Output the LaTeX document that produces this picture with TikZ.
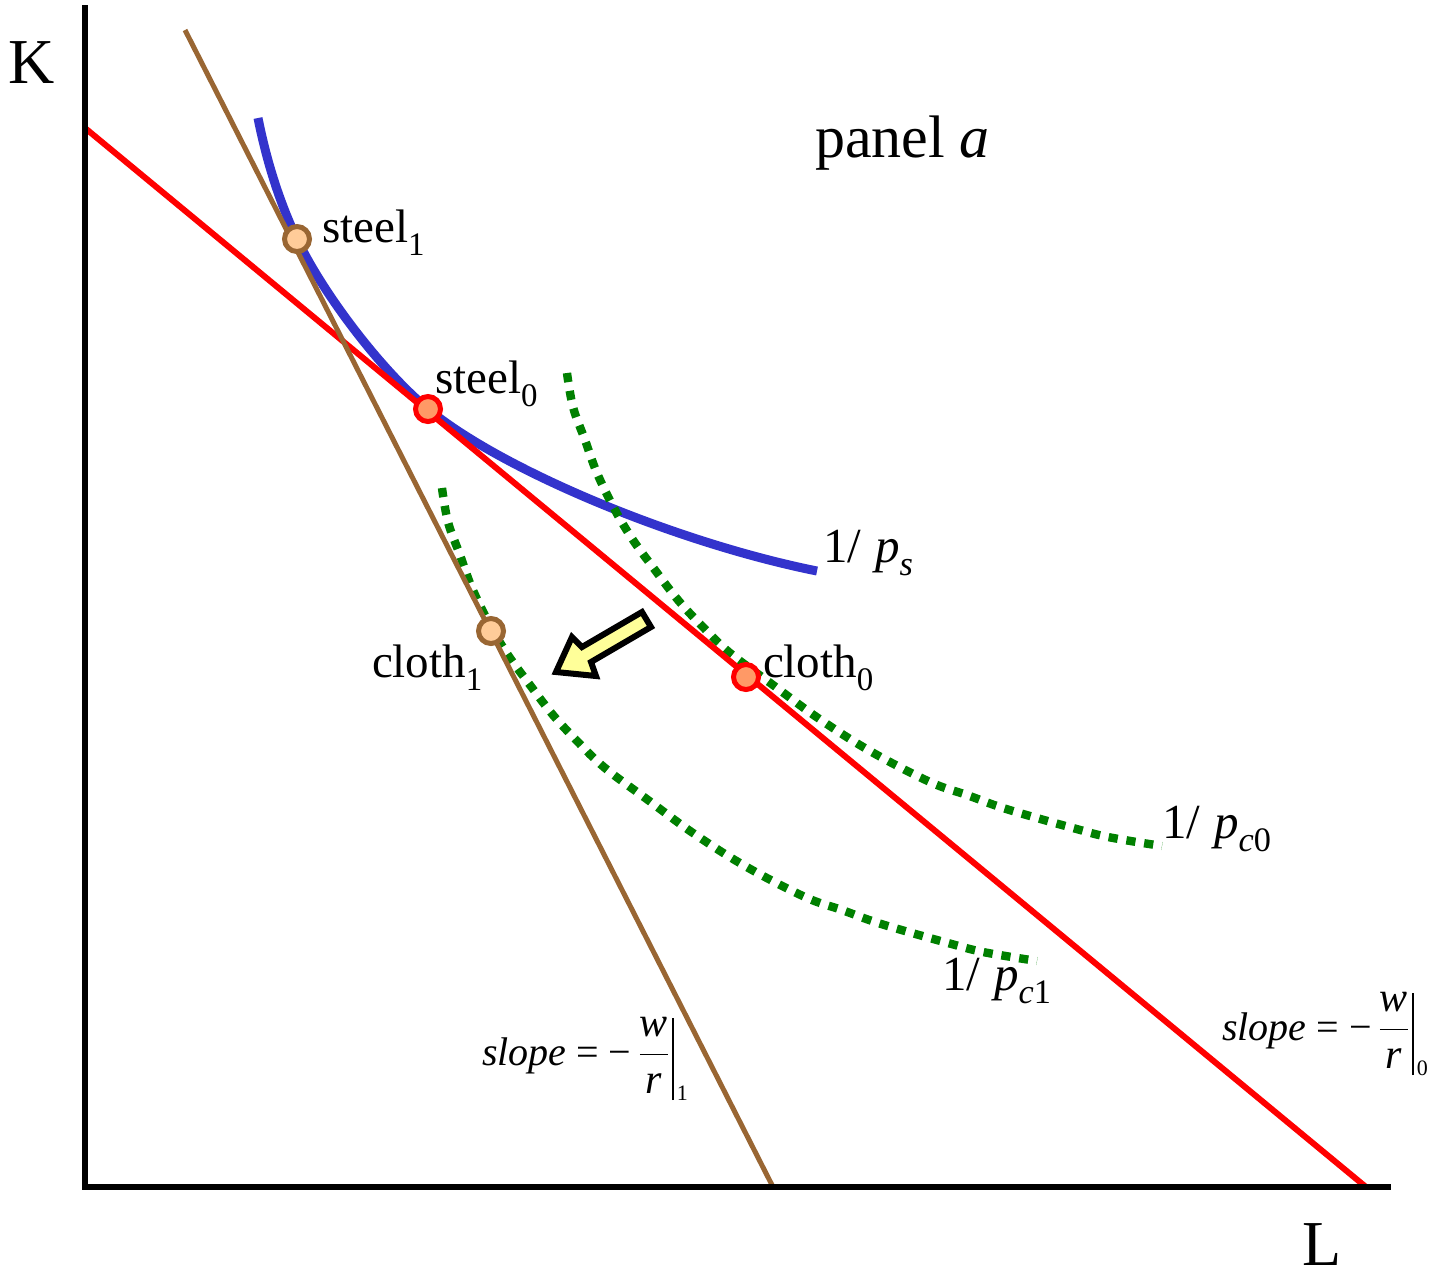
\documentclass[tikz,border=0pt]{standalone}
\usepackage{fontspec}
\setmainfont{Liberation Serif}
\usepackage{amsmath}
\usepackage{graphicx}
\definecolor{bluec}{RGB}{51,51,204}
\definecolor{brownc}{RGB}{153,102,51}
\definecolor{greenc}{RGB}{0,128,0}
\definecolor{peach}{RGB}{255,204,153}
\definecolor{salmon}{RGB}{255,153,102}
\definecolor{yel}{RGB}{255,255,153}
\newcommand\myfs[1]{\fontsize{#1}{#1}\selectfont}
\newcommand\sbs[1]{\raisebox{-0.28em}{\scalebox{0.7}{#1}}}
\newcommand\slopelabel[1]{\textit{slope} = −\hspace{3pt}$\genfrac{}{}{0.8pt}{0}{\mbox{\myfs{21}\itshape w}}{\mbox{\myfs{21}\itshape r}}$\hspace{1pt}\rule[-17.5pt]{0.8pt}{41pt}\hspace{1.5pt}\raisebox{-17.5pt}{\myfs{11}#1}}
\begin{document}
\begin{tikzpicture}[x=0.5pt,y=-0.5pt,
  axisline/.style={line width=3.4pt,black,line join=miter},
  redline/.style={line width=3pt,red},
  brownline/.style={line width=2.5pt,brownc},
  bluecurve/.style={line width=4.5pt,bluec},
  greencurve/.style={line width=4.2pt,greenc,dash pattern=on 4.6pt off 4.4pt},
  dotb/.style={circle,draw=brownc,fill=peach,line width=2.5pt,minimum size=12.5pt,inner sep=0pt},
  dotr/.style={circle,draw=red,fill=salmon,line width=2.5pt,minimum size=12.5pt,inner sep=0pt},
  lbl/.style={anchor=base west,inner sep=0pt,outer sep=0pt},
  bigarrow/.style={draw=black,fill=yel,line width=3pt,line join=miter}]
\useasboundingbox (0,0) rectangle (1441,1276);
% coordinates
\coordinate (ytop) at (85,5);
\coordinate (orig) at (85,1187);
\coordinate (xend) at (1391,1187);
\coordinate (r0) at (85,128);
\coordinate (r1) at (1366,1187);
\coordinate (b0) at (185,30);
\coordinate (b1) at (773,1187);
% isoquants
\draw[bluecurve] (258,118) .. controls (266.2,159.2) and (278.9,201.1) .. (297,239)
  .. controls (323.6,294.9) and (382.1,371.1) .. (428,409)
  .. controls (501.9,470.1) and (676.5,542.8) .. (817,571);
\draw[greencurve] plot[smooth,tension=0.6] coordinates {(567,373) (573,407) (585,440) (597,473) (615,510) (633,540) (655,570) (678,600) (703,627) (730,653) (773,685) (818,718) (870,751) (930,782) (967,795) (1000,807) (1037,818) (1073,828) (1108,837) (1162,846)};
\begin{scope}[shift={(-125,115)}]
\draw[greencurve] plot[smooth,tension=0.6] coordinates {(567,373) (573,407) (585,440) (597,473) (615,510) (633,540) (655,570) (678,600) (703,627) (730,653) (773,685) (818,718) (870,751) (930,782) (967,795) (1000,807) (1037,818) (1073,828) (1108,837) (1162,846)};
\end{scope}
% price lines
\draw[redline] (r0) -- (r1);
\draw[brownline] (b0) -- (b1);
% axes
\draw[axisline] (ytop) -- (orig) -- (xend);
% points
\node[dotb] (s1) at (297,239) {};
\node[dotr] (s0) at (428,409) {};
\node[dotb] (c1) at (491,631) {};
\node[dotr] (c0) at (746,677) {};
% arrow
\draw[bigarrow] (556,672) -- (572,637) -- (582,647) -- (642,612) -- (651,627) -- (591,662) -- (596,676) -- cycle;
% labels
\node[lbl,font=\myfs{32}] (K) at (9,83) {K};
\node[lbl,font=\myfs{32}] (L) at (1302,1265) {L};
\node[lbl,font=\myfs{30}] (panel) at (815,157) {panel \textit{a}};
\node[lbl,font=\myfs{23.5}] (ls1) at (322,242) {steel\sbs{1}};
\node[lbl,font=\myfs{23.5}] (ls0) at (435,393) {steel\sbs{0}};
\node[lbl,font=\myfs{23.5}] (lc1) at (372,677) {cloth\sbs{1}};
\node[lbl,font=\myfs{23.5}] (lc0) at (763,677) {cloth\sbs{0}};
\node[lbl,font=\myfs{24.5}] (ps) at (823,562) {1/\hspace{7pt}\textit{p}\sbs{\textit{s}}};
\node[lbl,font=\myfs{24.5}] (pc0) at (1162,838) {1/\hspace{7pt}\textit{p}\sbs{\textit{c}0}};
\node[lbl,font=\myfs{24.5}] (pc1) at (942,990) {1/\hspace{7pt}\textit{p}\sbs{\textit{c}1}};
\node[lbl,font=\myfs{20}] (sl1) at (482,1065) {\slopelabel{1}};
\node[lbl,font=\myfs{20}] (sl0) at (1222,1040) {\slopelabel{0}};
\end{tikzpicture}
\end{document}
